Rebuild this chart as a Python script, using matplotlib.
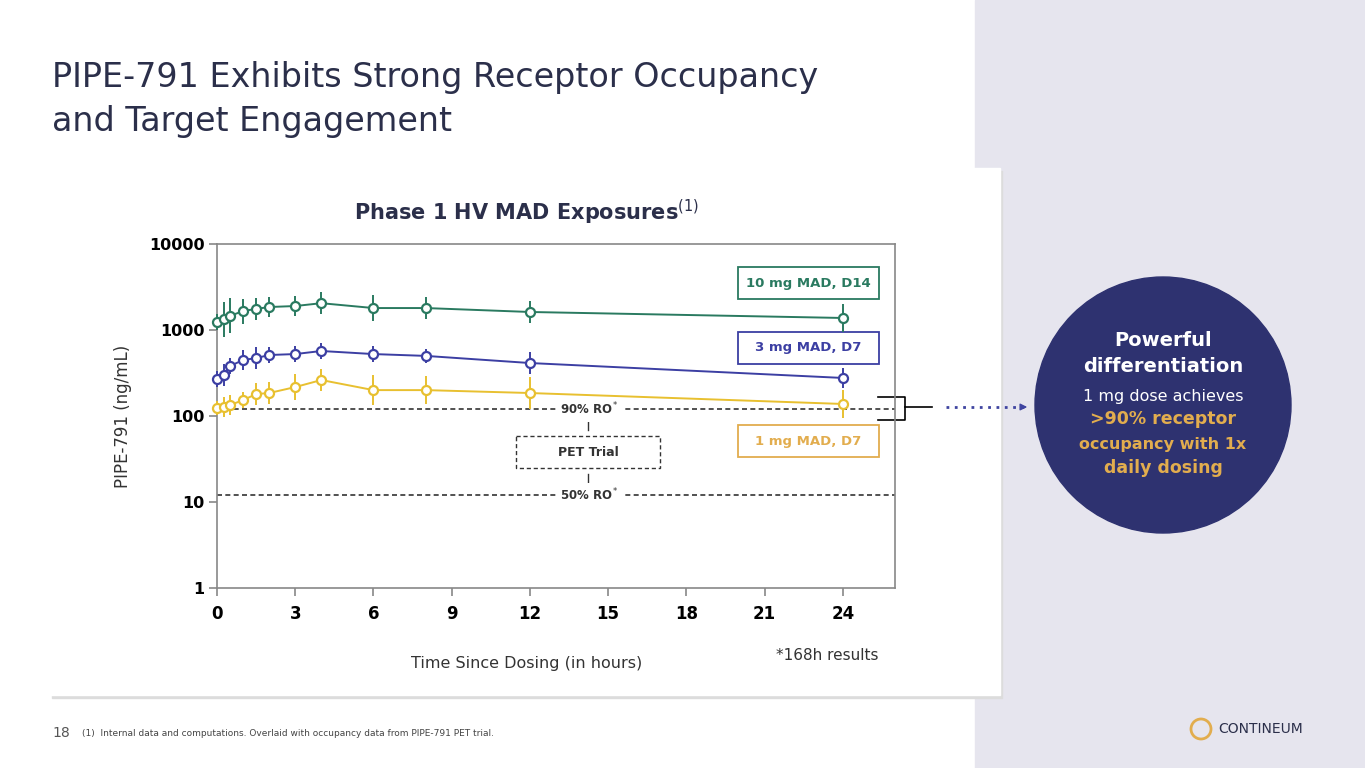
import matplotlib
matplotlib.use("Agg")
import matplotlib.pyplot as plt
import numpy as np
from matplotlib.patches import Rectangle, Circle

times = [0, 0.25, 0.5, 1, 1.5, 2, 3, 4, 6, 8, 12, 24]
mg10 = [1240, 1340, 1460, 1660, 1760, 1850, 1900, 2050, 1800, 1800, 1620, 1380]
mg3 = [269, 298, 381, 448, 471, 512, 525, 570, 525, 500, 413, 277]
mg1 = [124, 127, 134, 153, 180, 185, 217, 262, 200, 200, 185, 138]
err10 = [1.25, 1.6, 1.6, 1.4, 1.35, 1.3, 1.3, 1.35, 1.4, 1.35, 1.35, 1.45]
err3 = [1.25, 1.35, 1.25, 1.3, 1.35, 1.25, 1.25, 1.25, 1.25, 1.2, 1.35, 1.3]
err1 = [1.2, 1.3, 1.3, 1.25, 1.35, 1.35, 1.4, 1.35, 1.5, 1.45, 1.55, 1.45]
ro90, ro50 = 120, 12
xticks = [0, 3, 6, 9, 12, 15, 18, 21, 24]
yticks = [1, 10, 100, 1000, 10000]

W, H = 1365, 768
fig = plt.figure(figsize=(W/100, H/100), dpi=100)
fig.patch.set_facecolor("white")
bg = fig.add_axes([0, 0, 1, 1]); bg.set_xlim(0, W); bg.set_ylim(H, 0); bg.axis("off")
bg.add_patch(Rectangle((975, 0), 390, H, color="#e6e5ee"))
bg.add_patch(Rectangle((52, 171), 950, 527, color="#dcdcdc"))
bg.add_patch(Rectangle((50, 168), 950, 527, color="white"))
bg.add_patch(Circle((1163, 405), 128, color="#2e3270"))
bg.text(52, 77, "PIPE-791 Exhibits Strong Receptor Occupancy", fontsize=24, color="#2b2f4a", va="center", family="DejaVu Sans")
bg.text(52, 121, "and Target Engagement", fontsize=24, color="#2b2f4a", va="center", family="DejaVu Sans")
bg.text(527, 212, "Phase 1 HV MAD Exposures$^{(1)}$", fontsize=15, fontweight="bold", color="#2b2f4a", ha="center", va="center")
bg.text(1163, 341, "Powerful", fontsize=14, fontweight="bold", color="white", ha="center", va="center")
bg.text(1163, 367, "differentiation", fontsize=14, fontweight="bold", color="white", ha="center", va="center")
bg.text(1163, 396, "1 mg dose achieves", fontsize=11.5, color="white", ha="center", va="center")
bg.text(1163, 419, ">90% receptor", fontsize=12.5, fontweight="bold", color="#e2ad4e", ha="center", va="center")
bg.text(1163, 444, "occupancy with 1x", fontsize=11.5, fontweight="bold", color="#e2ad4e", ha="center", va="center")
bg.text(1163, 468, "daily dosing", fontsize=12.5, fontweight="bold", color="#e2ad4e", ha="center", va="center")
bg.plot([946, 1025], [407, 407], ls=(0, (1, 2)), color="#3f44a0", lw=2)
bg.annotate("", xy=(1030, 407), xytext=(1020, 407), arrowprops=dict(arrowstyle="-|>", color="#3f44a0"))
bg.plot([878, 905, 905, 878], [397, 397, 420, 420], color="black", lw=1.2)
bg.plot([905, 932], [407, 407], color="black", lw=1.2)
bg.text(52, 733, "18", fontsize=10, color="#555", va="center")
bg.text(82, 733, "(1)  Internal data and computations. Overlaid with occupancy data from PIPE-791 PET trial.", fontsize=6.5, color="#444", va="center")
bg.text(1218, 729, "CONTINEUM", fontsize=10, color="#2b2f4a", va="center")
bg.add_patch(Circle((1201, 729), 10, fill=False, ec="#e2ad4e", lw=2))

ax = fig.add_axes([217/W, 1-588/H, (895-217)/W, (588-244)/H])
ax.set_yscale("log")
ax.set_ylim(1, 10000); ax.set_xlim(0, 26.0)
for y, e, c in [(mg10, err10, "#2a7a60"), (mg3, err3, "#3c3fa3"), (mg1, err1, "#e8c030")]:
    y = np.array(y); e = np.array(e)
    ax.errorbar(times, y, yerr=[y - y/e, y*e - y], color=c, lw=1.4, elinewidth=1.4, capsize=0,
                marker="o", ms=6.5, mfc="white", mec=c, mew=1.6, clip_on=False, zorder=3)
for v, lab in [(ro90, "90% RO$^*$"), (ro50, "50% RO$^*$")]:
    ax.axhline(v, color="#333", ls=(0, (3, 2)), lw=1.2, zorder=1)
    ax.text(14.3, v, lab, ha="center", va="center", fontsize=8.5, fontweight="bold", color="#333",
            bbox=dict(fc="white", ec="none", pad=3), zorder=2)
ax.set_xticks(xticks); ax.set_yticks(yticks)
ax.set_xticklabels([str(t) for t in xticks], fontsize=12, fontweight="bold")
ax.set_yticklabels([str(t) for t in yticks], fontsize=11.5, fontweight="bold")
ax.minorticks_off()
for s in ax.spines.values():
    s.set_color("#888"); s.set_linewidth(1.2)
ax.tick_params(length=6, width=1.2, color="#888", pad=3)
ax.tick_params(axis="x", pad=6)
ax.set_ylabel("PIPE-791 (ng/mL)", fontsize=12, color="#333", labelpad=12)
ax.set_xlabel("Time Since Dosing (in hours)", fontsize=11.5, color="#333")
ax.xaxis.set_label_coords((527-217)/678, -(656-588)/344)
ax.set_facecolor("none")

bg.add_patch(Rectangle((516, 436), 144, 32, fill=False, ec="#333", ls=(0, (3, 2)), lw=1))
bg.text(588, 452, "PET Trial", fontsize=9, fontweight="bold", color="#333", ha="center", va="center")
bg.plot([588, 588], [418, 430], color="#333", lw=1)
bg.plot([588, 588], [474, 486], color="#333", lw=1)
for (yc, txt, c) in [(283, "10 mg MAD, D14", "#2a7a60"), (348, "3 mg MAD, D7", "#3c3fa3"), (441, "1 mg MAD, D7", "#e2ad4e")]:
    bg.add_patch(Rectangle((738, yc-16), 141, 32, fill=True, fc="white", ec=c, lw=1.3))
    bg.text(808, yc, txt, fontsize=9.5, fontweight="bold", color=c, ha="center", va="center")
bg.text(827, 656, "*168h results", fontsize=11, color="#333", ha="center", va="center")
fig.savefig("out.png", dpi=100)
